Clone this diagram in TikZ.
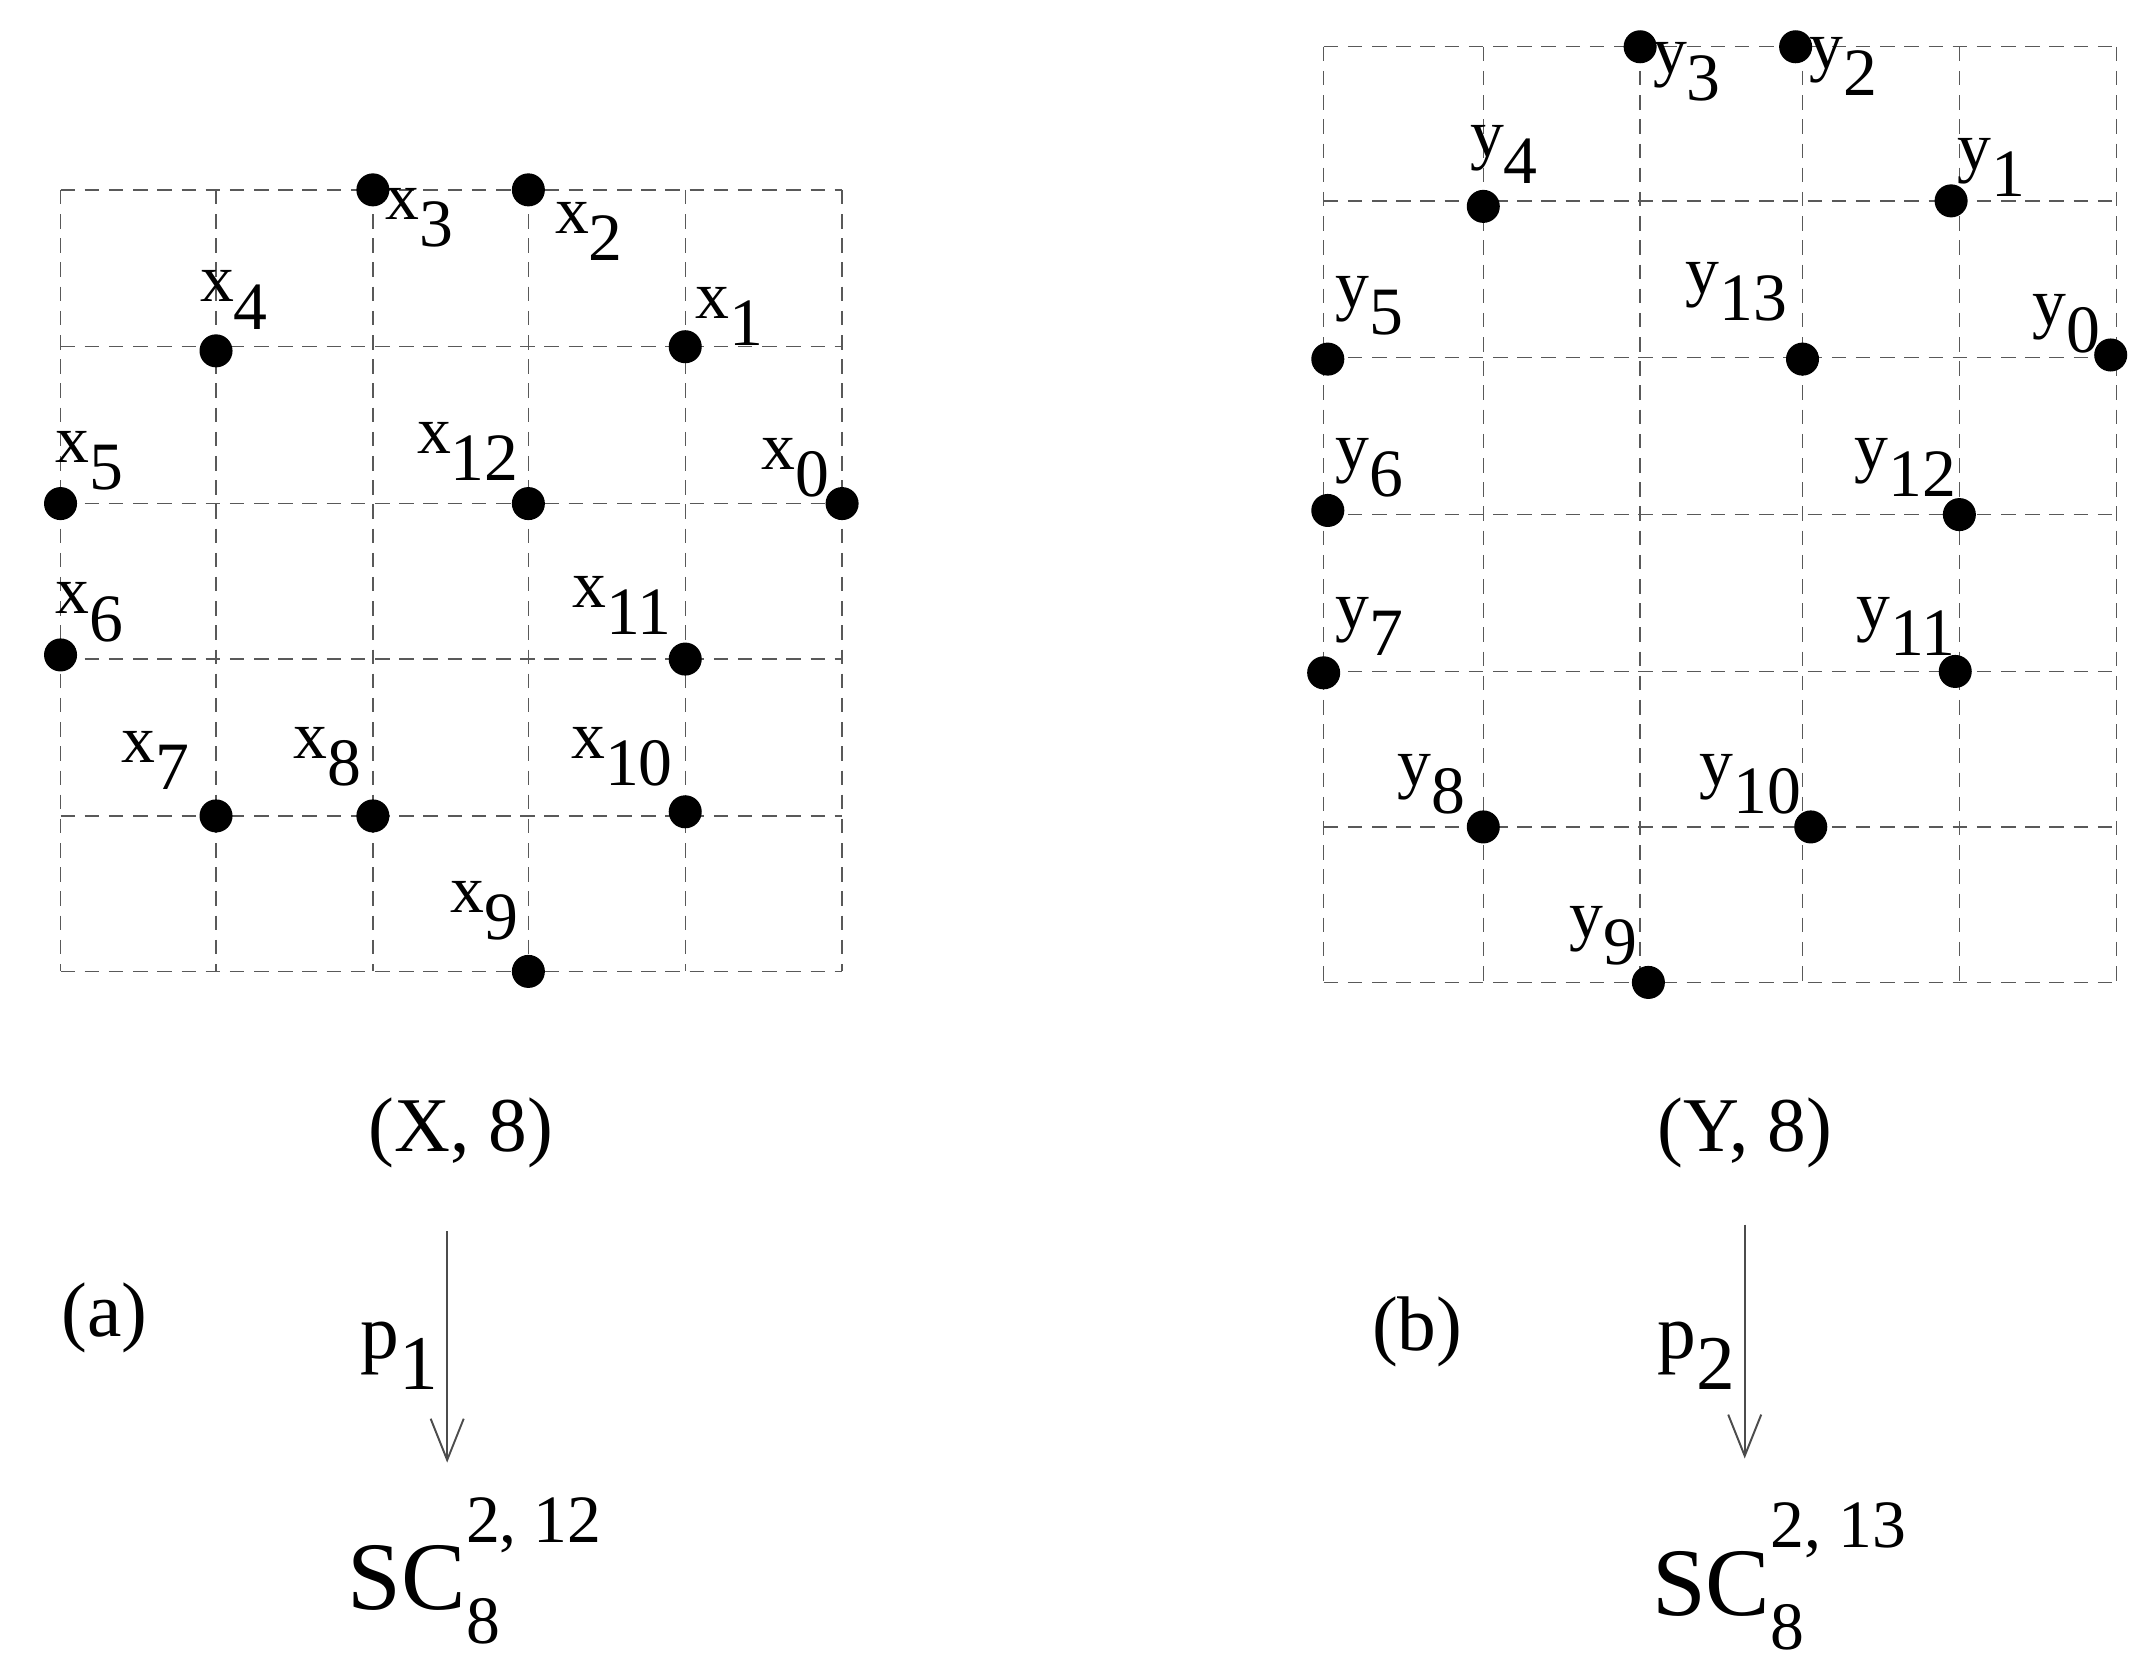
\documentclass[tikz,border=0pt]{standalone}
\usepackage{fontspec}
\setmainfont{Liberation Serif}
\usetikzlibrary{arrows.meta}
\newcommand{\lab}[2]{#1\raisebox{-0.4em}{#2}}
\newcommand{\scl}[1]{SC\rlap{\raisebox{-0.35em}{\fontsize{14}{14}\selectfont 8}}\raisebox{0.7em}{\fontsize{14}{14}\selectfont #1}}
\begin{document}
\begin{tikzpicture}[x=0.01cm,y=-0.01cm,
  gridl/.style={densely dashed,line width=0.3pt,gray!70!black},
  dot/.style={circle,fill=black,inner sep=0pt,minimum size=0.24cm},
  lbl/.style={font=\fontsize{14}{14}\selectfont,inner sep=0pt},
  big/.style={font=\fontsize{16}{16}\selectfont,inner sep=0pt},
  arr/.style={-{Straight Barb[length=3mm,width=2.4mm]},line width=0.4pt,gray!60!black}]
\useasboundingbox (0,0) rectangle (1556,1204);
% grid a
\foreach \x in {44,157,271,384,498,612} \draw[gridl] (\x,138) -- (\x,706);
\foreach \y in {138,252,366,479,593,706} \draw[gridl] (44,\y) -- (612,\y);
% grid b
\foreach \x in {962,1078,1192,1310,1424,1538} \draw[gridl] (\x,34) -- (\x,714);
\foreach \y in {34,146,260,374,488,601,714} \draw[gridl] (962,\y) -- (1538,\y);
% points a
\foreach \n/\p/\l in {0/{612,366}/{578,340},1/{498,252}/{530,230},2/{384,138}/{428,168},3/{271,138}/{305,158},4/{157,255}/{170,218},5/{44,366}/{65,335},6/{44,476}/{65,445},7/{157,593}/{113,553},8/{271,593}/{238,550},9/{384,706}/{352,662},10/{498,590}/{452,550},11/{498,479}/{452,440},12/{384,366}/{340,328}}{
  \node[dot] (x\n) at (\p) {};
  \node[lbl] (lx\n) at (\l) {\lab{x}{\n}};
}
% points b
\foreach \n/\p/\l in {0/{1534,258}/{1502,235},1/{1418,146}/{1447,122},2/{1305,34}/{1340,48},3/{1192,34}/{1226,52},4/{1078,150}/{1093,112},5/{965,261}/{995,222},6/{965,371}/{995,340},7/{962,489}/{995,455},8/{1078,601}/{1040,570},9/{1198,714}/{1165,680},10/{1316,601}/{1272,570},11/{1421,488}/{1385,455},12/{1424,374}/{1385,340},13/{1310,261}/{1262,212}}{
  \node[dot] (y\n) at (\p) {};
  \node[lbl] (ly\n) at (\l) {\lab{y}{\n}};
}
% texts a
\node[big] (Xa) at (335,823) {(X, 8)};
\node[big] (la) at (76,958) {(a)};
\node[big] (p1) at (290,985) {\lab{p}{1}};
\coordinate (a1) at (325,895); \coordinate (a2) at (325,1063);
\draw[arr] (a1) -- (a2);
\node[font=\fontsize{20}{20}\selectfont,inner sep=0pt,anchor=base west] (sc1) at (252,1170) {\scl{2, 12}};
% texts b
\node[big] (Yb) at (1268,823) {(Y, 8)};
\node[big] (lb) at (1030,968) {(b)};
\node[big] (p2) at (1233,985) {\lab{p}{2}};
\coordinate (b1) at (1268,890); \coordinate (b2) at (1268,1060);
\draw[arr] (b1) -- (b2);
\node[font=\fontsize{20}{20}\selectfont,inner sep=0pt,anchor=base west] (sc2) at (1200,1174) {\scl{2, 13}};
\end{tikzpicture}
\end{document}
